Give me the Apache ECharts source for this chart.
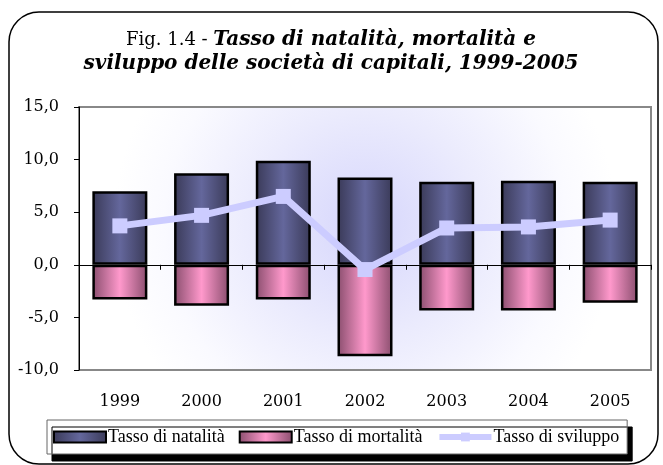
<!DOCTYPE html>
<html>
<head>
<meta charset="utf-8">
<script src="https://cdn.jsdelivr.net/npm/echarts@6/dist/echarts.min.js"></script>
<style>
html,body{margin:0;padding:0;background:#fff;}
#chart{width:663px;height:465px;}
</style>
</head>
<body>
<div id="chart"></div>
<script>
const years = ['1999','2000','2001','2002','2003','2004','2005'];
const natalita = [7.0, 8.7, 9.9, 8.3, 7.9, 8.0, 7.9];
const mortalita = [-3.3, -3.9, -3.3, -8.7, -4.35, -4.35, -3.6];
const sviluppo = [3.7, 4.7, 6.5, -0.45, 3.5, 3.6, 4.25];
const seriesNames = ['Tasso di natalità', 'Tasso di mortalità', 'Tasso di sviluppo'];

const serif = '"DejaVu Serif", serif';
const chart = echarts.init(document.getElementById('chart'));

function hGrad(edge, mid) {
  return new echarts.graphic.LinearGradient(0, 0, 1, 0, [
    {offset: 0, color: edge}, {offset: 0.5, color: mid}, {offset: 1, color: edge}
  ]);
}

chart.setOption({
  animation: false,
  backgroundColor: '#fff',
  graphic: [{
    type: 'rect',
    shape: {x: 9, y: 12, width: 649, height: 452, r: 30},
    style: {fill: 'none', stroke: '#000', lineWidth: 1.5},
    z: -10
  }, {
    type: 'text',
    x: 331, y: 28,
    style: {
      text: '{a|Fig. 1.4 - }{b|Tasso di natalità, mortalità e}\n{b|sviluppo delle società di capitali, 1999-2005}',
      align: 'center',
      verticalAlign: 'top',
      rich: {
        a: {fontFamily: serif, fontSize: 18, fontWeight: 'normal', fill: '#000', lineHeight: 24, align: 'center'},
        b: {fontFamily: serif, fontSize: 20, fontWeight: 'bold', fontStyle: 'italic', fill: '#000', lineHeight: 24, align: 'center'}
      }
    }
  }],
  grid: {
    left: 79, right: 12, top: 107, bottom: 95,
    show: true,
    borderColor: '#888',
    borderWidth: 2,
    backgroundColor: new echarts.graphic.RadialGradient(0.5, 0.45, 0.95, [
      {offset: 0, color: '#d6d6fc'},
      {offset: 0.45, color: '#ebebfd'},
      {offset: 0.8, color: '#fafaff'},
      {offset: 1, color: '#ffffff'}
    ])
  },
  legend: {
    left: 47, top: 420,
    padding: [8, 8, 8, 6],
    itemGap: 14,
    itemWidth: 52,
    itemHeight: 11,
    backgroundColor: '#fff',
    borderColor: '#666',
    borderWidth: 1,
    borderRadius: 0,
    shadowColor: '#000',
    shadowOffsetX: 5,
    shadowOffsetY: 7,
    shadowBlur: 0,
    textStyle: {fontFamily: '"Liberation Serif", serif', fontSize: 18, lineHeight: 18, color: '#000', padding: [0, 0, 0, -3]},
    data: [
      {name: seriesNames[0], icon: 'rect'},
      {name: seriesNames[1], icon: 'rect'},
      {name: seriesNames[2], lineStyle: {width: 6, color: '#ccccff'}}
    ]
  },
  xAxis: [{
    type: 'category',
    data: years,
    position: 'bottom',
    axisLine: {show: false, onZero: false},
    axisTick: {show: false},
    axisLabel: {fontFamily: serif, fontSize: 16, color: '#000', margin: 24}
  }, {
    type: 'category',
    data: years,
    position: 'bottom',
    axisLine: {show: true, onZero: true, lineStyle: {color: '#000', width: 1}},
    axisTick: {show: true, length: 5, lineStyle: {color: '#000'}},
    axisLabel: {show: false}
  }],
  yAxis: {
    type: 'value',
    min: -10, max: 15, interval: 5,
    axisLine: {show: true, lineStyle: {color: '#000', width: 1}},
    axisTick: {show: true, length: 5, lineStyle: {color: '#000'}},
    splitLine: {show: false},
    axisLabel: {
      fontFamily: serif, fontSize: 16, color: '#000', margin: 20,
      formatter: v => v.toFixed(1).replace('.', ',')
    }
  },
  series: [{
    name: seriesNames[0],
    type: 'bar',
    data: natalita,
    barWidth: 55,
    barGap: '-100%',
    itemStyle: {color: hGrad('#3a3a58', '#64679c'), borderColor: '#000', borderWidth: 2.5}
  }, {
    name: seriesNames[1],
    type: 'bar',
    data: mortalita,
    barWidth: 55,
    barGap: '-100%',
    itemStyle: {color: hGrad('#8a4e6e', '#ff99cc'), borderColor: '#000', borderWidth: 2.5}
  }, {
    name: seriesNames[2],
    type: 'line',
    data: sviluppo,
    symbol: 'rect',
    symbolSize: 15,
    lineStyle: {color: '#ccccff', width: 7},
    itemStyle: {color: '#ccccff'},
    z: 5
  }]
});
</script>
</body>
</html>
